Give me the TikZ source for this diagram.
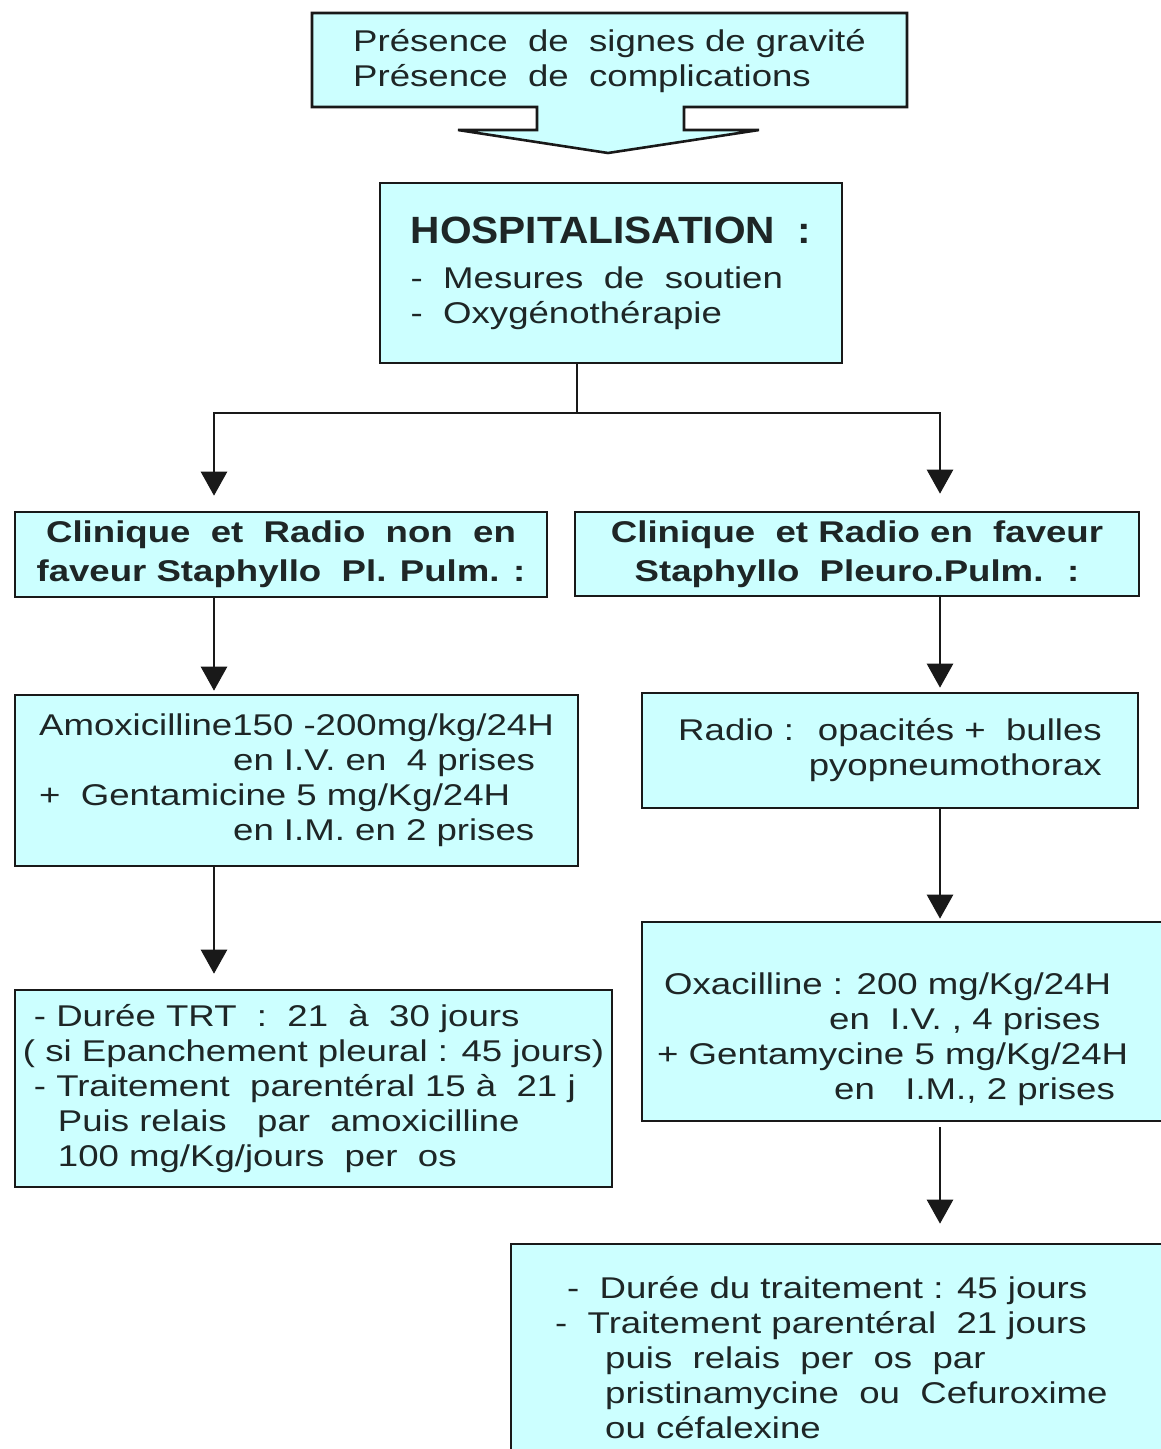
\documentclass[tikz,border=0pt]{standalone}
\usepackage{fontspec}
\setmainfont{Liberation Sans}[FakeStretch=1.22]
\newfontfamily\hospfont{Liberation Sans}[FakeStretch=1.07]
\usetikzlibrary{arrows.meta}
\usetikzlibrary{calc}

\definecolor{cyanclair}{RGB}{204,255,255}
\definecolor{trait}{RGB}{25,25,25}
\definecolor{encre}{RGB}{30,38,38}

\newcommand{\texteboite}{\fontsize{30}{35}\selectfont}
\newcommand{\texteclinique}{\fontsize{30}{39}\selectfont\bfseries}

\tikzset{
  boite/.style={draw=trait, fill=cyanclair, line width=2.6pt, inner sep=0pt, text=encre, font=\texteboite},
  texte/.style={inner sep=0pt, text=encre, font=\texteboite},
  fleche/.style={draw=trait, line width=2.6pt, -{Triangle[length=24pt, width=26pt]}}
}

\begin{document}
\begin{tikzpicture}[x=1pt, y=-1pt]
      \useasboundingbox (0, 0) rectangle (1161, 1449);

      \filldraw[fill=cyanclair, draw=trait, line width=2.6pt, line join=miter]
        (312, 13) -- (907, 13) -- (907, 107) -- (684, 107) -- (684, 130) -- (759, 130)
        -- (608, 153) -- (458, 130) -- (537, 130) -- (537, 107) -- (312, 107) -- cycle;
      \node[texte, align=left] (presence) at (609.5, 61) {Présence~ de~ signes de gravité\\Présence~ de~ complications};

      \node[boite, minimum width=462pt, minimum height=180pt, align=left] (hosp) at (611, 273)
        {\hospfont\fontsize{38}{40}\selectfont\textbf{HOSPITALISATION~ :}\\[10pt]-~ Mesures~ de~ soutien\\-~ Oxygénothérapie};

      \node[boite, minimum width=532pt, minimum height=85pt, align=center, font=\texteclinique] (g1) at (281, 554.5)
        {Clinique~ et~ Radio~ non~ en\\faveur Staphyllo~ Pl. Pulm. :};
      \node[boite, minimum width=564pt, minimum height=84pt, align=center, font=\texteclinique] (d1) at (857, 554)
        {Clinique~ et Radio en~ faveur\\Staphyllo~ Pleuro.Pulm.~ :};

      \node[boite, minimum width=563pt, minimum height=171pt, align=left] (g2) at (296.5, 780.5)
        {Amoxicilline150 -200mg/kg/24H\\\hspace*{194pt}en I.V. en~ 4 prises\\+~ Gentamicine 5 mg/Kg/24H\\\hspace*{194pt}en I.M. en 2 prises};
      \node[boite, minimum width=496pt, minimum height=115pt, align=right] (d2) at (890, 750.5)
        {Radio :~ opacités +~ bulles\\pyopneumothorax};

      \node[boite, minimum width=597pt, minimum height=197pt, align=left] (g3) at (313.5, 1088.5)
        {\hspace*{11pt}- Durée TRT~ :~ 21~ à~ 30 jours\\( si Epanchement pleural : 45 jours)\\\hspace*{11pt}- Traitement~ parentéral 15 à~ 21 j\\\hspace*{35pt}Puis relais~~ par~ amoxicilline\\\hspace*{35pt}100 mg/Kg/jours~ per~ os};

      \node[boite, minimum width=600pt, minimum height=199pt] (d3) at (942, 1021.5) {};
      \node[texte, align=left, anchor=west] (oxatxt) at (657, 1039)
        {\hspace*{7pt}Oxacilline : 200 mg/Kg/24H\\\hspace*{172pt}en~ I.V. , 4 prises\\+ Gentamycine 5 mg/Kg/24H\\\hspace*{177pt}en~~ I.M., 2 prises};

      \node[boite, minimum width=700pt, minimum height=256pt] (d4) at (861, 1372) {};
      \node[texte, align=left, anchor=west] (d4txt) at (555, 1358)
        {\hspace*{12pt}-~ Durée du traitement : 45 jours\\-~ Traitement parentéral~ 21 jours\\\hspace*{50pt}puis~ relais~ per~ os~ par\\\hspace*{50pt}pristinamycine~ ou~ Cefuroxime\\\hspace*{50pt}ou céfalexine};

      \coordinate (jonc) at (577, 413);
      \coordinate (colG) at (214, 0);
      \coordinate (colD) at (940, 0);

      \draw[draw=trait, line width=2.6pt] (hosp.south -| jonc) -- (jonc);
      \draw[fleche, shorten >=15pt] (jonc) -| (g1.north -| colG);
      \draw[fleche, shorten >=17pt] (jonc) -| (d1.north -| colD);
      \draw[fleche, shorten >=3pt] (g1.south -| colG) -- (g2.north -| colG);
      \draw[fleche, shorten >=15pt] (g2.south -| colG) -- (g3.north -| colG);
      \draw[fleche, shorten >=4pt] (d1.south -| colD) -- (d2.north -| colD);
      \draw[fleche, shorten >=2pt] (d2.south -| colD) -- (d3.north -| colD);
      \draw[fleche, shorten <=5pt, shorten >=19pt] (d3.south -| colD) -- (d4.north -| colD);
    \end{tikzpicture}
\end{document}
